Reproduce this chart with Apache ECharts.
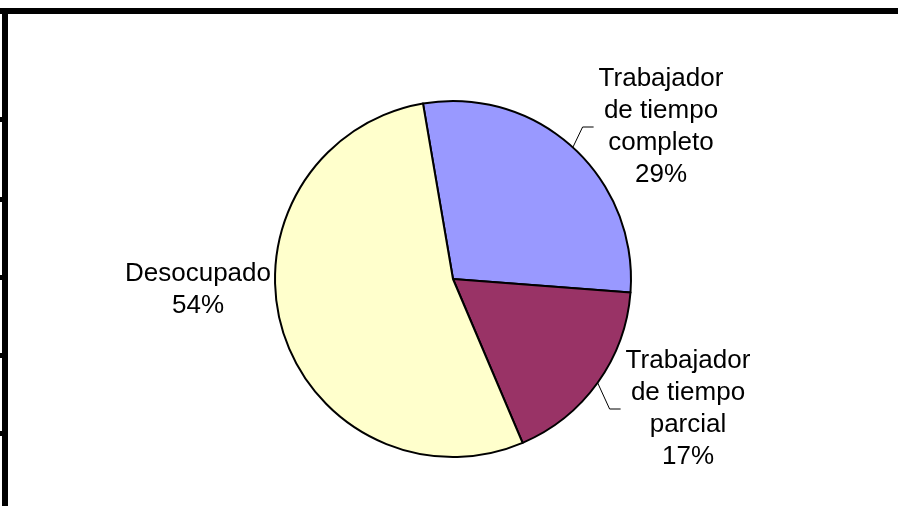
<!DOCTYPE html>
<html>
<head>
<meta charset="utf-8">
<script src="https://cdn.jsdelivr.net/npm/echarts@6/dist/echarts.min.js"></script>
<style>
  html, body { margin: 0; padding: 0; background: #fff; }
  #chart { width: 898px; height: 506px; }
</style>
</head>
<body>
<div id="chart"></div>
<script>
// datos (porcentajes)
const categories = ['Trabajador de tiempo completo', 'Trabajador de tiempo parcial', 'Desocupado']
const labelTexts = ['Trabajador\nde tiempo\ncompleto', 'Trabajador\nde tiempo\nparcial', 'Desocupado']
const values = [28.9, 17.4, 53.7]
const colors = ['#9999FF', '#993366', '#FFFFCC']

// posicion (centro) de cada etiqueta, igual que en el original
const labelPos = [[661, 127], [688, 409], [198, 290]]
const showLeader = [true, true, false]

// marco negro de la hoja (arriba, izquierda y marcas)
const frameTicks = [117, 197, 275, 353, 431]

const chart = echarts.init(document.getElementById('chart'), null, { renderer: 'canvas' })

const graphic = [
  { type: 'rect', shape: { x: 0, y: 8, width: 898, height: 6 }, style: { fill: '#000' } },
  { type: 'rect', shape: { x: 2, y: 8, width: 6, height: 498 }, style: { fill: '#000' } }
].concat(frameTicks.map(t => ({
  type: 'rect', shape: { x: 0, y: t, width: 3, height: 5 }, style: { fill: '#000' }
})))

chart.setOption({
  animation: false,
  backgroundColor: '#fff',
  graphic,
  series: [
    {
      type: 'pie',
      center: [453, 279],
      radius: 178,
      startAngle: 99.7,
      clockwise: true,
      avoidLabelOverlap: false,
      silent: true,
      itemStyle: { borderColor: '#000', borderWidth: 2 },
      label: {
        show: true,
        position: 'outside',
        color: '#000',
        fontFamily: '"Liberation Sans", Arial, sans-serif',
        fontSize: 26,
        lineHeight: 32,
        padding: [0, 5],
        backgroundColor: 'rgba(255,255,255,0)',
        formatter: p => `${labelTexts[p.dataIndex]}\n${Math.round(p.percent)}%`
      },
      labelLine: {
        show: true,
        length: 11,
        length2: 11,
        lineStyle: { color: '#000', width: 1 }
      },
      labelLayout: p => ({
        x: labelPos[p.dataIndex][0],
        y: labelPos[p.dataIndex][1],
        align: 'center',
        verticalAlign: 'middle',
        hideOverlap: false
      }),
      emphasis: { disabled: true },
      data: categories.map((name, i) => ({
        name,
        value: values[i],
        itemStyle: { color: colors[i] },
        labelLine: { show: showLeader[i] }
      }))
    }
  ]
})
</script>
</body>
</html>
